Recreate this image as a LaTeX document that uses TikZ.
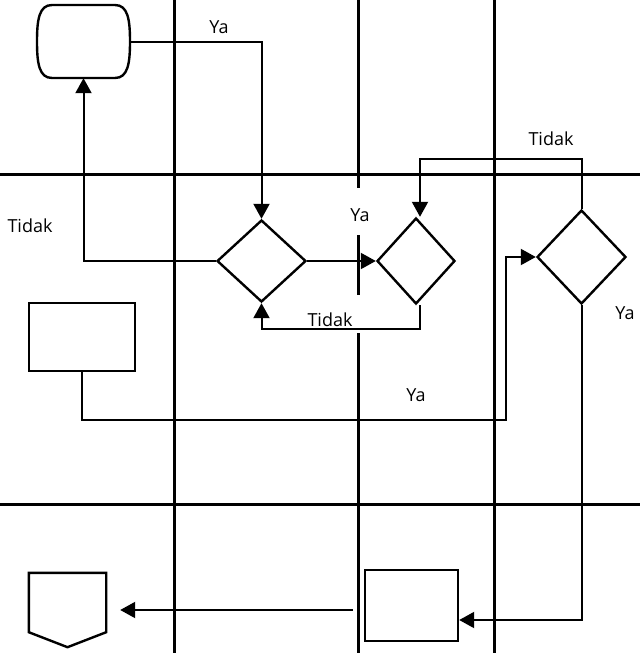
\documentclass[tikz,border=0pt]{standalone}
\usepackage{fontspec}
\setmainfont{Open Sans}
\usetikzlibrary{arrows.meta}
\usetikzlibrary{shapes,positioning}

\begin{document}
\begin{tikzpicture}[x=1pt,y=-1pt,
  lane/.style={line width=3pt},
  box/.style={draw,line width=2.4pt,inner sep=0pt},
  dec/.style={box,diamond},
  flow/.style={line width=2pt,-{Triangle[length=15pt,width=16pt]}},
  lbl/.style={font=\fontsize{18}{21}\selectfont,inner sep=1pt}]
\useasboundingbox (0,0) rectangle (640,653);
% lanes
\draw[lane] (0,174) -- (640,174);
\draw[lane] (0,504) -- (640,504);
\foreach \x in {174,494} \draw[lane] (\x,0) -- (\x,653);
\foreach \a/\b in {0/188, 235/295, 333/653} \draw[lane] (358,\a) -- (358,\b);
% shapes
\node[minimum width=93pt,minimum height=73pt,inner sep=0pt] (start) at (83.5,41.5) {};
\draw[line width=2.4pt,shift={(start.center)}] (-31.5,-36.5) -- (31.5,-36.5)
  .. controls (44.5,-36.5) and (46.5,-21.5) .. (46.5,0)
  .. controls (46.5,21.5) and (44.5,36.5) .. (31.5,36.5) -- (-31.5,36.5)
  .. controls (-44.5,36.5) and (-46.5,21.5) .. (-46.5,0)
  .. controls (-46.5,-21.5) and (-44.5,-36.5) .. (-31.5,-36.5) -- cycle;
\node[dec,minimum width=89pt,minimum height=82pt] (d1) at (261.5,261) {};
\node[dec,minimum width=78pt,minimum height=86pt] (d2) at (416,261) {};
\node[dec,minimum width=89pt,minimum height=94pt] (d3) at (581.5,257) {};
\node[box,minimum width=106pt,minimum height=68pt] (r1) at (82,337) {};
\node[box,minimum width=93pt,minimum height=71pt] (r2) at (411.5,605.5) {};
\node[minimum width=77pt,minimum height=74pt,inner sep=0pt] (op) at (67.5,610) {};
\draw[line width=2.4pt] (op.north west) -- (op.north east) -- ([yshift=15pt]op.south east)
  -- (op.south) -- ([yshift=15pt]op.south west) -- cycle;
\coordinate (turn) at (506,420);
% connectors
\draw[flow] (start.east) -| (d1.north);
\draw[flow] (d1.west) -| (start.south);
\draw[flow] (d1.east) -- (d2.west);
\draw[flow] ([xshift=4pt]d2.south) -- ++(0,24) -| (d1.south);
\draw[flow] (d3.north) -- ++(0,-50) -| ([xshift=4pt]d2.north);
\draw[flow] (r1.south) |- (turn) |- (d3.west);
\draw[flow] (d3.south) |- ([yshift=-14.5pt]r2.east);
\draw[flow,shorten <=11pt,shorten >=14pt] (op.east -| r2.west) -- (op.east);
% labels
\node[lbl] (ya1) at (219,27) {Ya};
\node[lbl] (tidak1) at (30,226) {Tidak};
\node[lbl] (ya2) at (360,215) {Ya};
\node[lbl] (tidak2) at (330,320) {Tidak};
\node[lbl] (tidak3) at (551,139) {Tidak};
\node[lbl] (ya3) at (625,313) {Ya};
\node[lbl] (ya4) at (416,395) {Ya};
\end{tikzpicture}
\end{document}
